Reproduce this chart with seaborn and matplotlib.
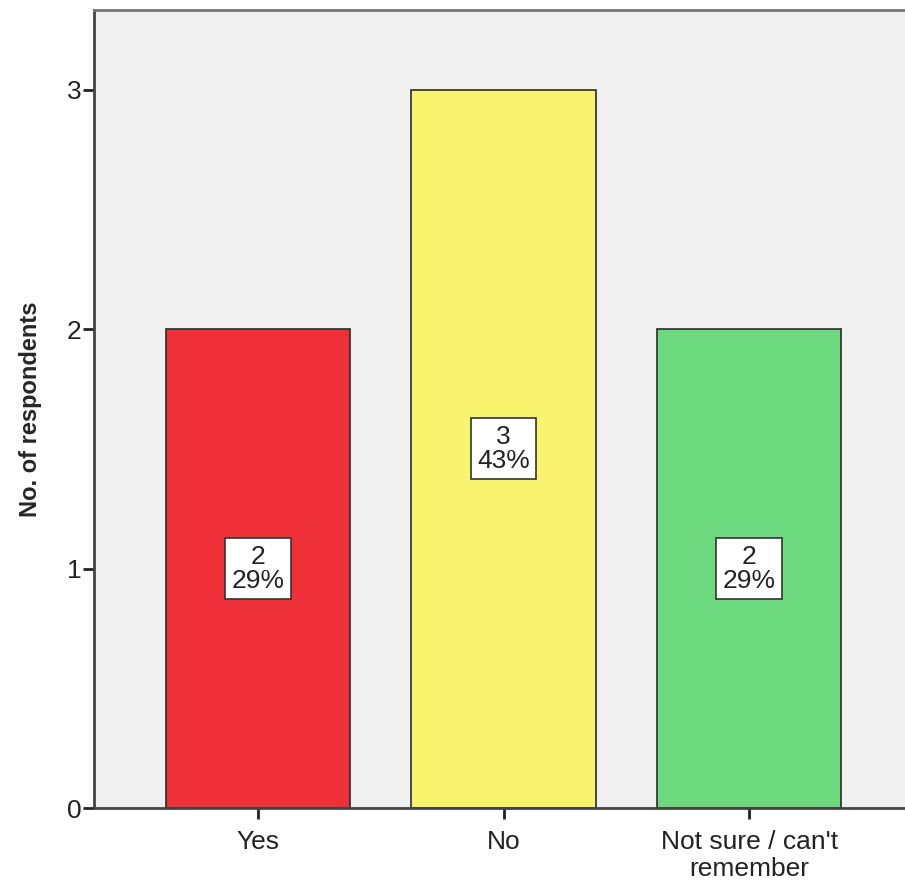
import matplotlib

matplotlib.use("Agg")
import matplotlib.pyplot as plt
import seaborn as sns
import pandas as pd

# data
categories = ["Yes", "No", "Not sure / can't\nremember"]
counts = [2, 3, 2]
percents = ["29%", "43%", "29%"]
colors = ["#EF3038", "#F8F46E", "#6CD97E"]

sns.set_style("white")
plt.rcParams["font.family"] = ["Liberation Sans", "DejaVu Sans"]

df = pd.DataFrame({"answer": categories, "count": counts})

fig = plt.figure(figsize=(9.05, 8.88), dpi=100)
ax = fig.add_axes([94 / 905, 80 / 888, 819 / 905, 798 / 888])
ax.set_facecolor("#F0F0F0")

sns.barplot(data=df, x="answer", y="count", hue="answer", palette=colors,
            saturation=1, width=0.75, edgecolor="#2a2a2a", linewidth=1.2,
            legend=False, ax=ax)

for i, (c, p) in enumerate(zip(counts, percents)):
    ax.text(i, c / 2, f"{c}\n{p}", ha="center", va="center", fontsize=19,
            color="#222222", linespacing=1.0,
            bbox=dict(boxstyle="square,pad=0.25", facecolor="white",
                      edgecolor="#333333", linewidth=1.2))

ax.set_xlim(-0.667, 2.667)
ax.set_ylim(0, 3.333)
ax.set_yticks([0, 1, 2, 3])
ax.set_xlabel("")
ax.set_ylabel("No. of respondents", fontsize=17, fontweight="bold")
ax.yaxis.set_label_coords(-0.064, 0.5)
ax.tick_params(axis="both", labelsize=19, colors="#222222", length=8,
               width=2, direction="out", left=True, bottom=True)
ax.tick_params(axis="x", pad=8)
ax.tick_params(axis="y", pad=1)
for label in ax.get_xticklabels():
    label.set_linespacing(1.15)
for side in ["left", "bottom", "top"]:
    ax.spines[side].set_color("#444444")
    ax.spines[side].set_linewidth(2)
ax.spines["top"].set_color("#777777")
ax.spines["right"].set_visible(False)

fig.savefig("out.png", dpi=100)
